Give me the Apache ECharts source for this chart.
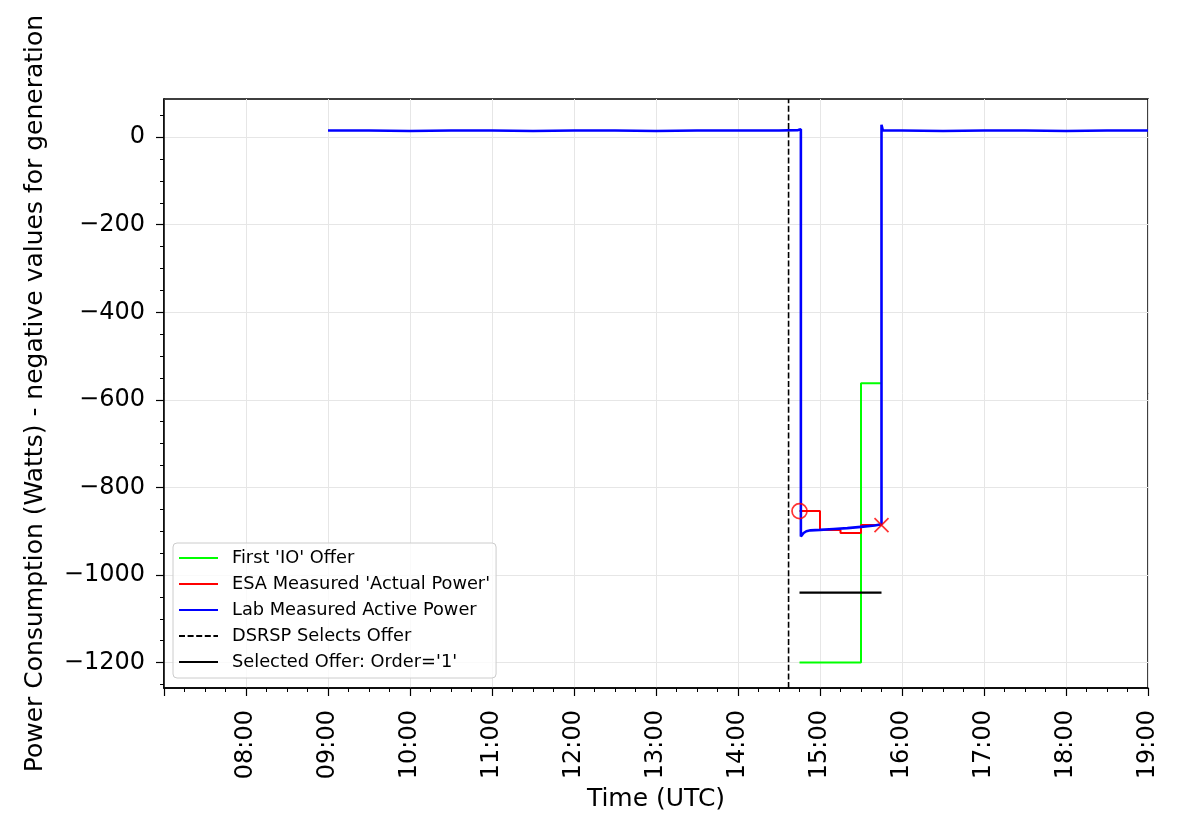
<!DOCTYPE html>
<html><head><meta charset="utf-8">
<script src="https://cdn.jsdelivr.net/npm/echarts@6/dist/echarts.min.js"></script>
<style>html,body{margin:0;padding:0;background:#fff}#c{width:1181px;height:818px}</style>
</head><body><div id="c"></div>
<script>
// ---- data ----
const xTickLabels = ['07:00','08:00','09:00','10:00','11:00','12:00','13:00','14:00','15:00','16:00','17:00','18:00','19:00'];
const yTicks = [0, -200, -400, -600, -800, -1000, -1200];
const yMinorTicks = [50, -50, -100, -150, -250, -300, -350, -450, -500, -550, -650, -700, -750, -850, -900, -950, -1050, -1100, -1150, -1250];

const offerTimes = ['14:45', '15:30', '15:45'];
const offerValues = [-1200, -562, -562];

const esaTimes = ['14:45', '15:00', '15:15', '15:30', '15:45'];
const esaValues = [-854, -897, -904, -886, -886];

const labTimes = ['09:00','09:30','10:00','10:30','11:00','11:30','12:00','12:30','13:00','13:30','14:00','14:30','14:44','14:46','14:46','14:47','14:48','14:50','14:53','15:00','15:10','15:20','15:30','15:40','15:45','15:45','15:46','16:00','16:30','17:00','17:30','18:00','18:30','19:00'];
const labValues = [15,15,14,15,15,14,15,15,14,15,15,15,16,18,-912,-908,-904,-900,-898,-897,-895,-893,-890,-887,-884,28,15,15,14,15,15,14,15,15];

const dsrspTime = '14:37';
const selectedTimes = ['14:45', '15:45'];
const selectedValue = -1040;

const firstMarkerTime = '14:45', firstMarkerValue = -854;
const lastMarkerTime = '15:45', lastMarkerValue = -886;

// ---- helpers ----
function toMin(s) { const p = s.split(':'); return (+p[0]) * 60 + (+p[1]); }
function pad(n) { return (n < 10 ? '0' : '') + n; }
function zip(ts, vs) { return ts.map((t, i) => [toMin(t), vs[i]]); }
const FONT = 'DejaVu Sans';
const xMin = toMin(xTickLabels[0]), xMax = toMin(xTickLabels[xTickLabels.length - 1]);
const yMin = -1258, yMax = 87;

const chart = echarts.init(document.getElementById('c'), null, { renderer: 'canvas' });
const option = {
  animation: false,
  backgroundColor: '#fff',
  grid: { left: 164, right: 33, top: 99, bottom: 130, show: true, borderColor: '#000', borderWidth: 1.5, containLabel: false },
  xAxis: {
    type: 'value', min: xMin, max: xMax, interval: 60,
    name: 'Time (UTC)', nameLocation: 'middle', nameGap: 98,
    nameTextStyle: { fontFamily: FONT, fontSize: 25, color: '#000' },
    axisLine: { show: true, onZero: false, lineStyle: { color: '#000', width: 1.5 } },
    axisTick: { show: true, inside: false, length: 8, lineStyle: { color: '#000', width: 1.2 } },
    minorTick: { show: true, splitNumber: 4, length: 4, lineStyle: { color: '#000', width: 1 } },
    axisLabel: {
      rotate: 90, margin: 22, fontFamily: FONT, fontSize: 24, color: '#000', showMinLabel: true,
      formatter: v => (v === xMin ? '' : pad(Math.floor(v / 60)) + ':' + pad(v % 60))
    },
    splitLine: { show: true, lineStyle: { color: '#e6e6e6', width: 1 } }
  },
  yAxis: [{
    type: 'value', min: yMin, max: yMax, position: 'left',
    name: 'Power Consumption (Watts) - negative values for generation',
    nameLocation: 'middle', nameGap: 116,
    nameTextStyle: { fontFamily: FONT, fontSize: 25, color: '#000' },
    axisLine: { show: true, onZero: false, lineStyle: { color: '#000', width: 1.5 } },
    axisTick: { show: true, inside: false, length: 8, customValues: yTicks, lineStyle: { color: '#000', width: 1.2 } },
    axisLabel: {
      customValues: yTicks, margin: 19, fontFamily: FONT, fontSize: 24, color: '#000',
      formatter: v => (v < 0 ? '\u2212' + Math.abs(v) : String(v))
    },
    splitLine: { show: true, lineStyle: { color: '#e6e6e6', width: 1 } }
  }, {
    type: 'value', min: yMin, max: yMax, position: 'left',
    axisLine: { show: false },
    axisTick: { show: true, inside: false, length: 4, customValues: yMinorTicks, lineStyle: { color: '#000', width: 1 } },
    axisLabel: { show: false },
    splitLine: { show: false }
  }],
  legend: {
    orient: 'vertical', left: 173, top: 543,
    data: ["First 'IO' Offer", "ESA Measured 'Actual Power'", 'Lab Measured Active Power', 'DSRSP Selects Offer', "Selected Offer: Order='1'"],
    itemWidth: 39, itemHeight: 20, itemGap: 6,
    padding: [5, 6, 6, 5],
    backgroundColor: 'rgba(255,255,255,0.8)', borderColor: '#cccccc', borderWidth: 1, borderRadius: 4,
    itemStyle: { opacity: 0 },
    textStyle: { fontFamily: FONT, fontSize: 17.8, color: '#000', lineHeight: 20, padding: [0, 0, 0, 9] }
  },
  series: [
    {
      name: "First 'IO' Offer", type: 'line', step: 'end', symbol: 'none',
      data: zip(offerTimes, offerValues),
      lineStyle: { color: '#00ff00', width: 2 }, itemStyle: { color: '#00ff00' }, z: 2
    },
    {
      name: "ESA Measured 'Actual Power'", type: 'line', step: 'end', symbol: 'none',
      data: zip(esaTimes, esaValues),
      lineStyle: { color: '#ff0000', width: 2 }, itemStyle: { color: '#ff0000' }, z: 3
    },
    {
      name: 'Lab Measured Active Power', type: 'line', symbol: 'none',
      data: zip(labTimes, labValues),
      lineStyle: { color: '#0000ff', width: 2.6 }, itemStyle: { color: '#0000ff' }, z: 4
    },
    {
      name: 'DSRSP Selects Offer', type: 'line', symbol: 'none',
      data: [[toMin(dsrspTime), yMin], [toMin(dsrspTime), yMax]],
      lineStyle: { color: '#000', width: 1.6, type: [6, 2.6] }, itemStyle: { color: '#000' }, z: 5
    },
    {
      name: "Selected Offer: Order='1'", type: 'line', symbol: 'none',
      data: selectedTimes.map(t => [toMin(t), selectedValue]),
      lineStyle: { color: '#000', width: 2.2 }, itemStyle: { color: '#000' }, z: 5
    },
    {
      name: 'esa-first', type: 'scatter', symbol: 'circle', symbolSize: 15,
      data: [[toMin(firstMarkerTime), firstMarkerValue]],
      itemStyle: { color: 'none', borderColor: '#ff0000', borderWidth: 1.7 }, z: 6, silent: true
    },
    {
      name: 'esa-last', type: 'scatter', symbol: 'path://M0,0L10,10M10,0L0,10', symbolSize: 14,
      data: [[toMin(lastMarkerTime), lastMarkerValue]],
      itemStyle: { color: 'none', borderColor: '#ff0000', borderWidth: 1.7 }, z: 6, silent: true
    }
  ]
};
chart.setOption(option);
</script>
</body></html>
